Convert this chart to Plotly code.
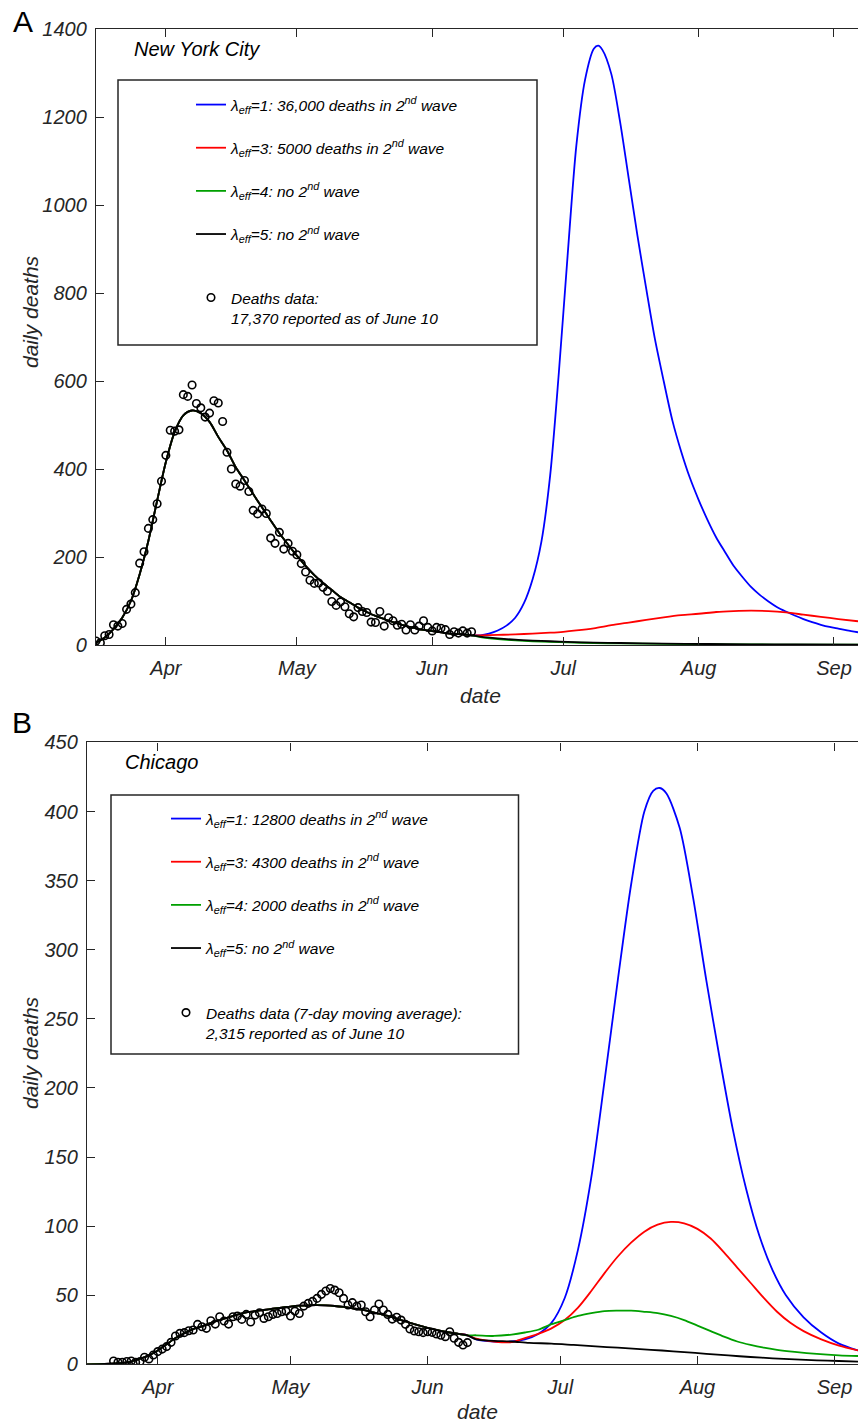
import pandas as pd
import plotly.graph_objects as go

START = pd.Timestamp("2020-03-16")
FONT = "Liberation Sans, Arial, sans-serif"
W, H = 858, 1425

# ---------------- New York City ----------------
nyc_data_start = "2020-03-16"
nyc_deaths = [9, 5, 21, 24, 46, 43, 49, 81, 93, 119,
              186, 212, 265, 285, 321, 372, 431, 488, 486, 489,
              569, 565, 591, 549, 539, 518, 527, 555, 550, 508,
              438, 400, 366, 361, 374, 349, 306, 298, 309, 299,
              243, 231, 256, 218, 231, 213, 205, 185, 166, 147,
              140, 141, 131, 122, 99, 90, 98, 87, 71, 64,
              85, 76, 74, 52, 51, 76, 43, 62, 55, 45,
              47, 34, 46, 34, 43, 55, 40, 32, 40, 38,
              35, 24, 30, 27, 32, 27, 30]

# model fit of the first wave (days after Mar 16)
nyc_fit_days = [0, 2, 4, 6, 8, 10, 12, 14, 16, 18, 20, 22, 24, 26, 28, 30, 32, 34, 36, 38, 40, 42,
                44, 46, 48, 50, 52, 54, 56, 58, 60, 62, 64, 66, 68, 70, 72, 74, 76, 78, 80, 82, 84, 86]
nyc_fit = [5, 17, 36, 62, 100, 161, 237, 328, 416, 484, 522, 533, 527, 507, 473, 442, 404, 374, 343, 313,
           283, 254, 228, 203, 180, 159, 141, 125, 109, 97, 85, 75, 66, 59, 52, 46, 41, 36, 33, 30,
           27, 25, 24, 22]

nyc_l1_days = [88, 90, 92, 94, 96, 98, 100, 102, 104, 106, 108, 110, 112, 114, 115, 116, 118, 120, 122,
               124, 126, 128, 130, 132, 134, 136, 138, 140, 142, 144, 146, 148, 150, 152, 154, 156, 158,
               160, 162, 164, 166, 168, 170, 172, 174.5]
nyc_l1 = [22, 26, 33, 44, 62, 95, 150, 235, 385, 620, 885, 1135, 1285, 1355, 1362, 1352, 1298, 1190, 1060,
          930, 810, 695, 600, 510, 440, 380, 330, 285, 245, 212, 180, 155, 132, 114, 99, 86, 76,
          67, 59, 52, 46, 41, 37, 33, 29]

nyc_l3_days = [88, 92, 96, 100, 104, 107, 110, 114, 118, 122, 126, 130, 134, 138, 142, 146, 150, 154,
               158, 162, 166, 170, 174.5]
nyc_l3 = [22, 23, 24, 26, 28, 30, 33, 38, 45, 51, 57, 63, 68, 71, 75, 77, 78, 77, 74, 69, 64, 59, 54]

nyc_l45_days = [88, 92, 96, 100, 104, 108, 114, 120, 130, 140, 150, 160, 174.5]
nyc_l4 = [18, 13.5, 10.5, 8.5, 7, 5.8, 4.5, 3.6, 2.5, 1.8, 1.3, 0.9, 0.6]
nyc_l5 = [19, 15, 12, 10, 8.5, 7, 5.5, 4.5, 3.2, 2.3, 1.6, 1.1, 0.7]

nyc_names = ["λ<sub>eff</sub>=1: 36,000 deaths in 2<sup>nd</sup> wave",
             "λ<sub>eff</sub>=3: 5000 deaths in 2<sup>nd</sup> wave",
             "λ<sub>eff</sub>=4: no 2<sup>nd</sup> wave",
             "λ<sub>eff</sub>=5: no 2<sup>nd</sup> wave"]
nyc_data_name = "Deaths data:<br>17,370 reported as of June 10"

# ---------------- Chicago ----------------
chi_data_start = "2020-03-22"
chi_deaths = [2.4, 1.5, 1.5, 2.0, 2.4, 1.5, 2.0, 5.1, 3.9, 6.7,
              9.2, 11.0, 12.8, 15.9, 20.5, 22.4, 22.9, 24.3, 24.8, 28.9,
              27.2, 26.0, 31.5, 29.1, 34.4, 31.3, 29.1, 34.4, 34.9, 32.5,
              36.1, 30.6, 35.6, 37.3, 33.2, 34.4, 36.1, 36.8, 38.0, 38.5,
              34.9, 38.5, 36.8, 42.1, 44.1, 45.5, 47.7, 50.6, 53.0, 54.9,
              53.7, 51.8, 47.7, 42.9, 44.6, 42.1, 42.9, 38.0, 34.4, 39.3,
              43.6, 39.3, 36.1, 32.7, 34.0, 32.0, 28.9, 25.5, 24.1, 23.6,
              22.9, 23.6, 23.1, 21.9, 21.0, 20.0, 23.6, 18.8, 15.9, 14.0,
              15.7]

chi_fit_days = [0, 4, 8, 10, 12, 14, 16, 18, 20, 22, 24, 26, 28, 30, 32, 34, 36, 38, 40, 42, 44,
                46, 48, 50, 52, 54, 56, 58, 60, 62, 64, 66, 68, 70, 72, 74, 76, 78, 80, 82, 84, 86]
chi_fit = [0, 0.3, 1, 2, 4, 6.5, 10, 14.5, 19, 22.5, 25.5, 27.5, 30, 32, 34, 36, 37.5, 38.5, 39.3, 40.2,
           41, 41.8, 42.4, 42.7, 42.8, 42.6, 42.2, 41.5, 40.5, 39.5, 38.2, 36.6, 35, 33, 31, 29, 27.2,
           25.6, 24.2, 23, 22, 21]

chi_l1_days = [88, 92, 96, 99, 102, 105, 108, 111, 114, 117, 120, 123, 126, 128, 129.5, 131, 134, 137,
               140, 143, 146, 149, 152, 155, 158, 162, 166, 170, 174.3]
chi_l1 = [18, 16.5, 16.5, 18, 22, 30, 48, 83, 135, 205, 278, 347, 400, 415, 417, 413, 388, 338,
          278, 222, 170, 127, 93, 68, 50, 34, 23, 15, 10]

chi_l3_days = [88, 92, 96, 99, 102, 105, 108, 111, 114, 117, 120, 123, 126, 129, 132, 135, 138, 141,
               144, 147, 150, 153, 156, 159, 162, 166, 170, 174.3]
chi_l3 = [18.5, 16.5, 16, 19, 22, 26, 32, 41, 53, 66, 78, 88, 96, 101, 103, 102, 98, 91,
          81, 70, 59, 48, 38, 30, 24, 18, 13.5, 10]

chi_l4_days = [88, 92, 96, 99, 102, 105, 108, 111, 114, 117, 120, 123, 126, 129, 132, 135, 138, 141,
               144, 147, 150, 153, 156, 160, 165, 170, 174.3]
chi_l4 = [21, 20.5, 21.5, 23, 25, 29, 32, 35, 37, 38.5, 38.8, 38.8, 38, 37, 35, 32, 28, 24,
          20, 16.5, 14, 12, 10.5, 9, 7.5, 6.5, 6]

chi_l5_days = [88, 92, 96, 100, 105, 110, 115, 120, 125, 130, 135, 140, 145, 150, 155, 160, 165, 170, 174.3]
chi_l5 = [18, 17, 16.5, 15.5, 15, 14, 13, 12, 11, 10, 8.8, 7.6, 6.4, 5.3, 4.3, 3.5, 2.9, 2.4, 2]

chi_names = ["λ<sub>eff</sub>=1: 12800 deaths in 2<sup>nd</sup> wave",
             "λ<sub>eff</sub>=3: 4300 deaths in 2<sup>nd</sup> wave",
             "λ<sub>eff</sub>=4: 2000 deaths in 2<sup>nd</sup> wave",
             "λ<sub>eff</sub>=5: no 2<sup>nd</sup> wave"]
chi_data_name = "Deaths data (7-day moving average):<br>2,315 reported as of June 10"

month_ticks = ["2020-04-01", "2020-05-01", "2020-06-01", "2020-07-01", "2020-08-01", "2020-09-01"]
month_labels = ["Apr", "May", "Jun", "Jul", "Aug", "Sep"]

colors = ["#0000ff", "#ff0000", "#00a000", "#000000"]


def to_dates(days):
    return START + pd.to_timedelta(days, unit="D")


def px_x(p):
    return p / W


def px_y(p):
    return 1 - p / H


fig = go.Figure()


def add_panel(fit_days, fit, scen, names, obs_start, obs, data_name, xa, ya, leg_lines, leg_data):
    for i, ((sd, sv), name) in enumerate(zip(scen, names)):
        fig.add_trace(go.Scatter(
            x=to_dates(list(fit_days) + list(sd)), y=list(fit) + list(sv),
            mode="lines", name=name, line=dict(color=colors[i], width=1.8, shape="spline", smoothing=0.8),
            xaxis=xa, yaxis=ya, legend=leg_lines, legendgroup=f"{leg_lines}_{i}", hoverinfo="skip"))
    fig.add_trace(go.Scatter(
        x=pd.date_range(obs_start, periods=len(obs), freq="D"), y=obs,
        mode="markers", name=data_name,
        marker=dict(symbol="circle-open", size=7.5, color="black", line=dict(width=1.6, color="black")),
        xaxis=xa, yaxis=ya, legend=leg_data))


add_panel(nyc_fit_days, nyc_fit,
          [(nyc_l1_days, nyc_l1), (nyc_l3_days, nyc_l3), (nyc_l45_days, nyc_l4), (nyc_l45_days, nyc_l5)],
          nyc_names, nyc_data_start, nyc_deaths, nyc_data_name, "x", "y", "legend", "legend2")
add_panel(chi_fit_days, chi_fit,
          [(chi_l1_days, chi_l1), (chi_l3_days, chi_l3), (chi_l4_days, chi_l4), (chi_l5_days, chi_l5)],
          chi_names, chi_data_start, chi_deaths, chi_data_name, "x2", "y2", "legend3", "legend4")

AX = "#262626"
tickfont = dict(family=FONT, size=20, color=AX, style="italic")


def xaxis_cfg(left_px, ya, end_days):
    return dict(domain=[px_x(left_px), 1], anchor=ya, type="date",
                range=[START, START + pd.Timedelta(days=end_days)],
                tickvals=month_ticks, ticktext=month_labels, ticks="inside", ticklen=8, tickwidth=1.3,
                tickcolor=AX, showline=True, linecolor=AX, linewidth=1.3, mirror="ticks",
                showgrid=False, zeroline=False, tickfont=tickfont, automargin=False,
                ticklabelstandoff=5)


def yaxis_cfg(top_px, bot_px, xa, ymax, dtick):
    return dict(domain=[px_y(bot_px), px_y(top_px)], anchor=xa, range=[0, ymax], dtick=dtick,
                tick0=0, ticks="inside", ticklen=8, tickwidth=1.3, tickcolor=AX, showline=True,
                linecolor=AX, linewidth=1.3, showgrid=False, zeroline=False, tickfont=tickfont,
                automargin=False, ticklabelstandoff=4)


legfont = dict(family=FONT, size=15.5, color="black", style="italic")


def leg(xp, yp, gap=20, valign="middle"):
    return dict(x=px_x(xp), y=px_y(yp), xanchor="left", yanchor="top", bgcolor="rgba(0,0,0,0)",
                borderwidth=0, font=legfont, tracegroupgap=gap, valign=valign, itemclick=False,
                itemdoubleclick=False)


fig.update_layout(
    width=W, height=H, margin=dict(l=0, r=0, t=0, b=0),
    paper_bgcolor="white", plot_bgcolor="white",
    xaxis=xaxis_cfg(96, "y", 174.5), yaxis=yaxis_cfg(29, 645, "x", 1400, 200),
    xaxis2=xaxis_cfg(87, "y2", 174.3), yaxis2=yaxis_cfg(742.4, 1364.3, "x2", 450, 50),
    legend=leg(191, 88), legend2=leg(191, 281, valign="top"),
    legend3=leg(166, 802), legend4=leg(166, 996, valign="top"),
    showlegend=True,
    shapes=[
        dict(type="rect", xref="paper", yref="paper", x0=px_x(118), x1=px_x(537), y0=px_y(345), y1=px_y(80),
             line=dict(color=AX, width=1.5), fillcolor="rgba(0,0,0,0)"),
        dict(type="rect", xref="paper", yref="paper", x0=px_x(111), x1=px_x(518.5), y0=px_y(1054), y1=px_y(795),
             line=dict(color=AX, width=1.5), fillcolor="rgba(0,0,0,0)"),
    ],
)

ann = []


def text(t, xp, yp, size, italic=True, xanchor="center", angle=0, color="black"):
    ann.append(dict(text=t, x=px_x(xp), y=px_y(yp), xref="paper", yref="paper", showarrow=False,
                    xanchor=xanchor, yanchor="middle", textangle=angle,
                    font=dict(family=FONT, size=size, color=color, style="italic" if italic else "normal")))


text("A", 23, 22, 30, italic=False)
text("B", 22, 722, 30, italic=False)
text("New York City", 132, 49, 20, xanchor="left")
text("Chicago", 123, 762, 20, xanchor="left")
text("daily deaths", 31, 311, 21, angle=-90, color=AX)
text("daily deaths", 30, 1053, 21, angle=-90, color=AX)
text("date", 480, 695, 21, color=AX)
text("date", 477, 1411, 21, color=AX)
fig.update_layout(annotations=ann)

fig.write_html("out.html", config={"displayModeBar": False},
               post_script="document.body.style.margin='0px';document.body.style.overflow='hidden';")
